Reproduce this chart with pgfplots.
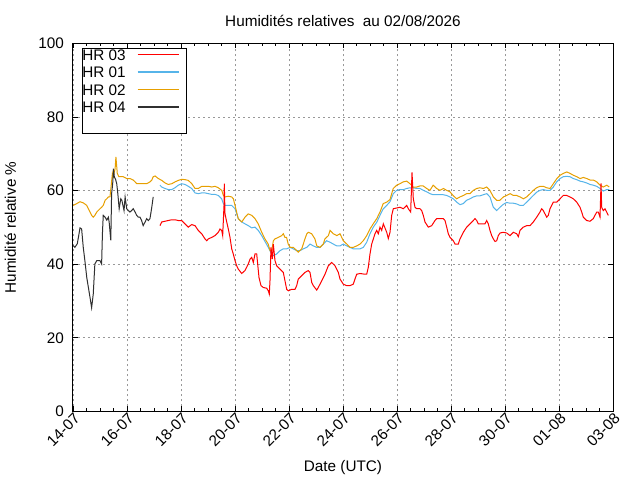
\documentclass[border=0pt]{standalone}
\usepackage{fontspec}
\setmainfont{Liberation Sans}
\usepackage{pgfplots}
\pgfplotsset{compat=1.18}
\definecolor{hrred}{HTML}{FF0000}
\definecolor{hrblue}{HTML}{56B4E9}
\definecolor{hrorange}{HTML}{E69F00}
\definecolor{hrblack}{HTML}{303030}
\begin{document}
\fontsize{15.3bp}{18bp}\selectfont
\begin{tikzpicture}
\begin{axis}[
  scale only axis, width=540bp, height=368bp,
  at={(0,0)}, anchor=south west,
  xmin=0, xmax=20, ymin=0, ymax=100,
  xtick={0,2,...,20},
  xticklabels={14-07,16-07,18-07,20-07,22-07,24-07,26-07,28-07,30-07,01-08,03-08},
  minor x tick num=3,
  ytick={0,20,...,100},
  tick align=inside,
  major tick length=5bp, minor tick length=3bp,
  tick style={black, line width=0.8bp},
  axis line style={line width=1bp},
  grid=major,
  major grid style={black!40, line width=0.8bp, dash pattern=on 2bp off 3bp},
  xticklabel style={rotate=45, anchor=east, inner sep=0pt, yshift=-6bp},
  yticklabel style={anchor=east, inner sep=0pt, xshift=-9bp},
  /pgf/number format/assume math mode=true,
  title={Humidités relatives\ \ au 02/08/2026},
  title style={at={([yshift=11bp]axis description cs:0.5,1)}, anchor=base, inner sep=0pt},
  xlabel={Date (UTC)},
  xlabel style={at={([yshift=-59.5bp]axis description cs:0.5,0)}, anchor=base, inner sep=0pt},
  ylabel={Humidité relative \%},
  ylabel style={at={([xshift=-57bp]axis description cs:0,0.5)}, anchor=base, inner sep=0pt},
  legend plot pos=right,
  legend cell align=left,
  legend style={at={(axis description cs:0.0172,0.988)}, anchor=north west,
    draw=black, line width=0.8bp, fill=white, inner sep=0pt, outer sep=0pt, row sep=0pt,
    nodes={inner sep=0pt, text height=10bp, text depth=5bp}},
  legend image code/.code={\path[draw=none, fill=none] (0bp,-5bp) rectangle (61bp,10bp); \draw[#1, line width=1.2bp] (12bp,3.42bp) -- (53bp,3.42bp);},
  every axis plot/.append style={line width=1bp},
]
\addlegendimage{draw=hrred}\addlegendentry{HR 03}
\addlegendimage{draw=hrblue}\addlegendentry{HR 01}
\addlegendimage{draw=hrorange}\addlegendentry{HR 02}
\addlegendimage{draw=hrblack}\addlegendentry{HR 04}
\addlegendimage{empty legend}\addlegendentry{}

% HR 01 (blue)
\addplot[hrblue, forget plot] coordinates {
(3.222,61.5)(3.285,61.0)(3.407,60.6)(3.530,60.3)(3.656,60.3)(3.778,60.8)(3.900,61.5)(4.026,61.9)
(4.148,61.7)(4.270,61.2)(4.396,60.6)(4.519,59.4)(4.641,59.2)(4.767,59.4)(4.889,59.4)(5.011,59.2)
(5.137,59.0)(5.259,59.0)(5.381,58.7)(5.507,57.8)(5.567,56.5)(5.630,56.0)(5.752,56.0)(5.878,56.0)
(6.000,55.1)(6.063,53.7)(6.122,52.4)(6.248,51.5)(6.370,51.0)(6.493,50.5)(6.619,49.9)(6.741,50.1)
(6.863,49.2)(6.989,47.8)(7.111,46.2)(7.233,44.6)(7.359,42.8)(7.419,42.3)(7.544,42.8)(7.667,43.7)
(7.789,44.2)(7.915,44.2)(8.037,44.6)(8.159,44.2)(8.285,43.7)(8.407,43.7)(8.530,44.2)(8.656,44.6)
(8.778,45.5)(8.900,45.0)(9.026,44.6)(9.148,44.6)(9.270,45.5)(9.396,46.4)(9.519,46.0)(9.641,45.5)
(9.767,45.0)(9.889,45.0)(10.011,45.5)(10.137,45.0)(10.259,44.6)(10.381,44.2)(10.507,44.2)(10.630,44.2)
(10.752,44.6)(10.878,46.0)(11.000,48.3)(11.122,50.1)(11.248,51.4)(11.370,53.3)(11.493,55.1)(11.619,56.0)
(11.741,57.0)(11.863,59.2)(11.989,60.1)(12.111,60.3)(12.233,60.3)(12.359,60.6)(12.481,60.8)(12.604,60.8)
(12.730,60.6)(12.852,60.6)(12.974,60.1)(13.100,59.7)(13.222,59.2)(13.344,58.9)(13.470,58.9)(13.593,58.9)
(13.715,58.9)(13.841,58.7)(13.963,58.3)(14.085,57.8)(14.211,56.9)(14.333,56.2)(14.456,56.5)(14.581,57.4)
(14.704,57.8)(14.826,58.3)(14.952,58.6)(15.074,58.6)(15.196,58.9)(15.322,59.2)(15.444,58.3)(15.506,56.9)
(15.567,55.5)(15.693,54.6)(15.815,55.5)(15.937,56.3)(16.063,56.8)(16.185,56.6)(16.307,56.6)(16.433,56.4)
(16.556,56.0)(16.678,56.0)(16.804,56.9)(16.926,57.8)(17.048,58.7)(17.174,59.6)(17.296,60.1)(17.419,60.3)
(17.544,60.1)(17.667,60.1)(17.789,61.0)(17.915,62.4)(18.037,63.3)(18.159,63.8)(18.285,63.9)(18.407,63.8)
(18.530,63.3)(18.656,63.0)(18.778,62.6)(18.900,62.4)(19.026,62.1)(19.148,61.7)(19.270,61.5)(19.396,61.2)
(19.519,60.6)(19.641,59.9)(19.767,60.3)(19.863,60.3)
};

% HR 02 (orange)
\addplot[hrorange, forget plot] coordinates {
(0.01,56.0)(0.14,56.5)(0.26,57.0)(0.38,56.7)(0.51,56.0)(0.57,55.1)(0.63,54.2)(0.69,53.3)
(0.75,52.8)(0.81,53.3)(0.88,54.2)(1.00,55.1)(1.06,55.5)(1.12,56.0)(1.19,57.4)(1.25,57.8)
(1.31,58.3)(1.37,58.3)(1.41,61.1)(1.46,64.7)(1.49,63.8)(1.56,66.0)(1.59,69.2)(1.64,64.7)
(1.70,63.8)(1.80,63.8)(1.86,63.8)(1.99,63.3)(2.11,63.3)(2.23,62.9)(2.30,62.4)(2.36,61.9)
(2.48,61.9)(2.60,61.9)(2.73,61.9)(2.85,62.4)(2.92,62.9)(2.97,63.8)(3.04,64.0)(3.16,63.3)
(3.29,62.8)(3.41,62.1)(3.53,61.7)(3.66,61.9)(3.78,62.4)(3.90,62.8)(4.03,63.1)(4.15,63.0)
(4.27,62.8)(4.40,61.9)(4.52,60.6)(4.64,60.6)(4.77,61.2)(4.89,61.2)(5.01,61.2)(5.14,61.0)
(5.26,61.2)(5.38,60.8)(5.51,60.1)(5.57,58.7)(5.63,58.3)(5.75,58.5)(5.88,58.3)(5.94,57.8)
(6.00,56.0)(6.06,54.2)(6.12,52.4)(6.25,51.5)(6.37,52.8)(6.49,53.7)(6.62,53.3)(6.74,52.4)
(6.86,51.0)(6.99,48.7)(7.11,46.9)(7.23,45.5)(7.30,43.7)(7.36,43.7)(7.42,46.4)(7.48,46.9)
(7.60,47.3)(7.73,47.8)(7.79,48.3)(7.85,47.3)(7.91,47.3)(7.97,45.5)(8.04,44.6)(8.16,44.6)
(8.29,43.7)(8.34,43.3)(8.47,44.2)(8.53,45.5)(8.59,46.9)(8.66,48.3)(8.72,48.7)(8.84,48.3)
(8.96,46.9)(9.03,45.0)(9.15,44.6)(9.27,45.5)(9.33,46.9)(9.46,47.8)(9.52,49.2)(9.64,48.3)
(9.77,47.8)(9.89,48.3)(10.01,46.4)(10.14,45.5)(10.26,44.6)(10.38,44.6)(10.51,45.0)(10.63,45.5)
(10.75,46.4)(10.88,47.8)(11.00,49.6)(11.12,51.0)(11.25,52.4)(11.37,54.2)(11.49,56.5)(11.62,56.9)
(11.74,57.6)(11.86,60.6)(11.99,61.5)(12.11,61.9)(12.23,62.4)(12.36,62.6)(12.48,61.9)(12.60,61.0)
(12.73,61.0)(12.85,61.3)(12.97,61.3)(13.10,60.6)(13.22,60.1)(13.34,61.5)(13.47,60.6)(13.59,60.1)
(13.72,60.6)(13.84,60.1)(13.96,59.7)(14.09,58.6)(14.21,57.8)(14.33,58.3)(14.46,58.7)(14.58,59.2)
(14.70,59.2)(14.83,60.1)(14.95,60.6)(15.07,60.8)(15.20,60.6)(15.32,61.0)(15.44,60.1)(15.57,58.3)
(15.69,57.4)(15.81,57.4)(15.94,58.3)(16.06,58.7)(16.19,59.2)(16.31,58.7)(16.43,58.7)(16.56,58.3)
(16.68,57.8)(16.80,58.3)(16.93,59.2)(17.05,60.1)(17.17,60.8)(17.30,61.2)(17.42,61.2)(17.54,60.8)
(17.67,60.6)(17.79,61.9)(17.92,63.3)(18.04,64.2)(18.16,64.7)(18.29,65.1)(18.41,64.7)(18.53,64.2)
(18.66,63.8)(18.78,63.3)(18.90,63.6)(19.03,63.3)(19.15,62.9)(19.27,62.9)(19.40,62.4)(19.52,61.5)
(19.64,61.0)(19.77,61.5)(19.86,61.0)
};

% HR 03 (red)
\addplot[hrred, forget plot] coordinates {
(3.222,50.5)(3.285,51.5)(3.407,51.7)(3.530,51.9)(3.656,52.1)(3.778,52.1)(3.900,51.9)(4.026,51.9)
(4.148,51.0)(4.270,50.1)(4.396,50.8)(4.519,50.5)(4.641,49.2)(4.767,48.3)(4.889,46.9)(4.952,46.4)
(5.011,46.9)(5.137,47.3)(5.259,47.8)(5.381,48.7)(5.444,49.6)(5.507,49.2)(5.544,47.8)(5.593,56.0)
(5.604,61.9)(5.630,53.7)(5.693,51.5)(5.752,49.6)(5.815,47.3)(5.878,44.2)(5.937,42.8)(6.000,41.0)
(6.063,39.6)(6.122,38.7)(6.248,37.5)(6.370,38.3)(6.433,39.2)(6.493,40.1)(6.556,41.4)(6.619,41.9)
(6.678,40.5)(6.741,42.8)(6.804,42.8)(6.841,40.0)(6.889,36.4)(6.963,34.2)(7.048,33.7)(7.174,33.5)
(7.233,32.8)(7.270,31.9)(7.296,35.5)(7.333,44.6)(7.381,41.4)(7.419,45.5)(7.481,41.0)(7.544,39.6)
(7.667,38.7)(7.789,37.8)(7.852,35.5)(7.915,33.2)(7.974,32.8)(8.100,33.2)(8.222,33.2)(8.285,34.2)
(8.344,36.0)(8.470,36.9)(8.593,37.8)(8.715,38.3)(8.778,37.8)(8.841,35.1)(8.900,34.2)(9.026,33.0)
(9.085,33.7)(9.211,35.5)(9.333,37.3)(9.456,39.6)(9.581,40.5)(9.704,39.6)(9.826,37.8)(9.889,36.0)
(10.011,34.6)(10.137,34.2)(10.259,34.2)(10.381,34.6)(10.444,36.0)(10.507,37.3)(10.630,37.5)(10.815,37.3)
(10.878,37.3)(10.937,39.2)(11.000,42.8)(11.063,45.5)(11.185,48.3)(11.248,49.2)(11.307,48.3)(11.370,50.1)
(11.433,49.2)(11.493,51.0)(11.619,48.7)(11.678,47.0)(11.741,48.7)(11.804,53.3)(11.863,55.1)(11.989,55.3)
(12.111,55.5)(12.233,55.1)(12.359,56.0)(12.419,55.1)(12.507,54.2)(12.556,65.0)(12.604,57.8)(12.667,55.5)
(12.730,55.1)(12.852,55.1)(12.915,54.6)(12.974,53.3)(13.037,51.5)(13.159,50.1)(13.285,50.5)(13.407,51.9)
(13.470,52.4)(13.593,52.4)(13.715,52.4)(13.778,51.9)(13.841,50.1)(13.900,48.3)(13.963,47.3)(14.085,46.4)
(14.148,45.5)(14.270,45.5)(14.333,46.9)(14.456,48.7)(14.581,50.1)(14.704,51.0)(14.826,51.9)(14.889,52.4)
(14.952,51.9)(15.011,51.0)(15.137,51.0)(15.259,51.0)(15.322,51.9)(15.381,51.0)(15.444,49.2)(15.506,47.8)
(15.567,46.9)(15.630,46.2)(15.693,46.4)(15.752,47.8)(15.815,48.5)(15.937,48.7)(16.063,48.5)(16.185,47.8)
(16.307,48.7)(16.433,48.3)(16.493,47.5)(16.556,49.2)(16.678,50.1)(16.804,50.5)(16.926,50.5)(17.048,51.5)
(17.174,52.8)(17.296,54.2)(17.359,55.1)(17.419,54.6)(17.544,52.8)(17.604,53.3)(17.667,55.1)(17.789,56.9)
(17.915,56.9)(18.037,57.8)(18.159,58.7)(18.285,58.7)(18.407,58.3)(18.530,57.8)(18.656,56.9)(18.778,55.5)
(18.841,54.2)(18.900,52.8)(19.026,51.9)(19.148,51.7)(19.270,52.4)(19.396,54.2)(19.456,54.2)(19.519,52.8)
(19.556,62.0)(19.581,55.5)(19.641,54.6)(19.704,55.1)(19.767,54.2)(19.826,53.3)
};

% HR 04 (black)
\addplot[hrblack, forget plot] coordinates {
(0.01,45.1)(0.07,44.6)(0.16,45.6)(0.26,49.9)(0.32,49.6)(0.38,44.6)(0.44,41.0)(0.51,36.4)
(0.57,33.7)(0.63,31.0)(0.69,28.2)(0.75,31.9)(0.81,40.1)(0.88,41.0)(1.00,41.0)(1.06,40.1)
(1.09,48.3)(1.12,53.3)(1.19,52.8)(1.25,52.0)(1.31,52.8)(1.34,51.4)(1.40,46.5)(1.43,59.2)
(1.47,61.9)(1.50,66.0)(1.53,63.8)(1.58,63.0)(1.62,61.9)(1.66,59.2)(1.71,55.1)(1.77,57.8)
(1.81,57.4)(1.89,54.6)(1.93,58.3)(1.99,55.1)(2.05,54.6)(2.11,54.2)(2.17,54.6)(2.23,55.1)
(2.30,54.2)(2.36,53.3)(2.42,52.8)(2.48,52.8)(2.54,51.9)(2.60,50.5)(2.67,51.5)(2.73,52.4)
(2.79,51.9)(2.85,52.4)(2.91,55.1)(2.97,58.3)
};
\end{axis}
\pgfresetboundingbox
\useasboundingbox (-73bp,-68.5bp) rectangle (567bp,411.5bp);
\end{tikzpicture}
\end{document}
